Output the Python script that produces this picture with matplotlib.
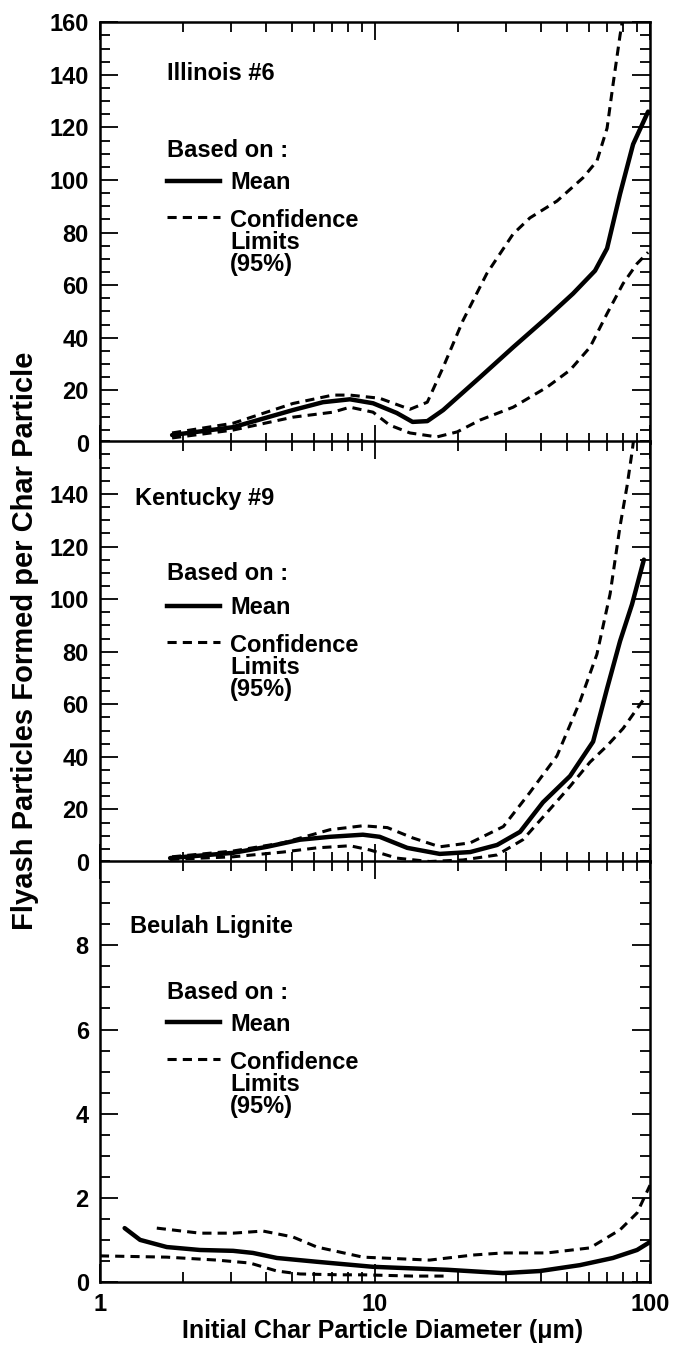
import numpy as np
import matplotlib
matplotlib.use("Agg")
import matplotlib.pyplot as plt
from matplotlib.ticker import FixedLocator, MultipleLocator, NullFormatter, FixedFormatter
from matplotlib.legend_handler import HandlerLine2D
from matplotlib.lines import Line2D

plt.rcParams['font.family'] = ['Liberation Sans', 'DejaVu Sans']
plt.rcParams['font.weight'] = 'bold'
plt.rcParams['font.size'] = 17

# ---------------- data ----------------
# Illinois #6
ill_mean_x = [1.83, 3.05, 5.03, 6.47, 8.11, 9.84, 12.0, 13.7, 15.5, 17.7, 24.1, 31.8, 42.2, 52.5, 63.1, 69.8, 77.8, 86.8, 98.4]
ill_mean_y = [3.0, 6.0, 12.5, 15.5, 16.6, 15.1, 11.4, 8.0, 8.3, 12.5, 25.0, 36.4, 47.7, 56.8, 65.5, 74.0, 94.7, 113.6, 126.0]
ill_up_x = [1.83, 3.05, 5.03, 7.03, 8.11, 10.4, 13.4, 15.5, 17.7, 20.9, 25.5, 31.8, 36.6, 45.9, 57.0, 64.1, 69.8, 73.3, 77.8, 82.0]
ill_up_y = [3.8, 7.5, 15.0, 18.2, 18.2, 17.0, 12.8, 15.5, 28.8, 46.6, 64.4, 79.5, 85.6, 92.0, 100.8, 107.2, 119.7, 136.0, 155.0, 170.0]
ill_lo_x = [1.83, 3.05, 5.03, 7.03, 8.11, 9.84, 11.3, 13.4, 16.8, 19.9, 24.1, 31.8, 42.2, 51.2, 60.5, 69.8, 79.8, 89.7, 98.4]
ill_lo_y = [1.9, 4.9, 9.8, 11.7, 13.6, 11.7, 6.8, 3.8, 2.3, 4.2, 8.7, 13.6, 21.2, 27.7, 36.4, 49.2, 60.6, 68.2, 72.5]

# Kentucky #9
ky_mean_x = [1.80, 3.05, 4.05, 5.34, 6.86, 9.04, 10.4, 13.1, 17.2, 22.2, 27.8, 33.7, 40.8, 51.2, 62.1, 69.8, 77.8, 86.0, 95.0]
ky_mean_y = [1.5, 3.5, 5.8, 8.5, 9.6, 10.4, 9.6, 5.4, 3.1, 3.8, 6.5, 11.5, 22.7, 32.7, 45.8, 66.0, 84.0, 98.0, 115.0]
ky_up_x = [1.83, 3.05, 4.63, 6.86, 9.04, 11.1, 13.7, 17.2, 22.2, 29.3, 36.6, 45.9, 55.6, 64.1, 71.6, 77.8, 82.5, 86.0, 89.0]
ky_up_y = [2.0, 4.2, 7.3, 12.3, 13.8, 13.1, 9.2, 5.8, 7.3, 13.5, 26.5, 40.4, 61.0, 79.0, 102.0, 127.7, 143.0, 155.8, 168.0]
ky_lo_x = [1.80, 3.05, 4.63, 6.15, 8.11, 9.58, 12.0, 15.8, 20.9, 27.8, 34.5, 42.2, 51.2, 60.5, 69.8, 79.8, 95.0]
ky_lo_y = [1.0, 2.0, 3.8, 5.4, 6.2, 4.6, 1.5, 0.2, 0.8, 2.7, 8.5, 18.8, 28.8, 38.0, 44.2, 50.8, 62.0]

# Beulah Lignite
bl_mean_x = [1.23, 1.40, 1.75, 2.31, 3.05, 3.6, 4.4, 6.15, 9.84, 18.3, 29.2, 39.8, 55.6, 73.3, 89.7, 100.0]
bl_mean_y = [1.28, 1.0, 0.83, 0.76, 0.74, 0.69, 0.57, 0.48, 0.36, 0.29, 0.21, 0.26, 0.40, 0.57, 0.76, 0.95]
bl_up_x = [1.61, 2.31, 3.05, 3.92, 5.03, 6.15, 7.46, 9.04, 15.8, 22.7, 29.2, 42.2, 60.5, 77.8, 89.7, 100.0]
bl_up_y = [1.28, 1.16, 1.16, 1.21, 1.07, 0.83, 0.71, 0.59, 0.52, 0.64, 0.69, 0.69, 0.81, 1.24, 1.64, 2.3]
bl_lo_x = [1.0, 1.75, 2.66, 3.51, 4.4, 5.34, 7.46, 9.04, 13.7, 18.3]
bl_lo_y = [0.62, 0.59, 0.52, 0.45, 0.26, 0.19, 0.17, 0.17, 0.14, 0.14]

panel_names = ["Illinois #6", "Kentucky #9", "Beulah Lignite"]
y_limits = [(0, 160), (0, 160), (0, 10)]
y_major = [[0, 20, 40, 60, 80, 100, 120, 140, 160],
           [0, 20, 40, 60, 80, 100, 120, 140],
           [0, 2, 4, 6, 8]]
y_minor_step = [5, 5, 0.5]
x_ticks = [1, 10, 100]
x_ticklabels = ["1", "10", "100"]
legend_title = "Based on :"
legend_labels = ["Mean", "Confidence\nLimits\n(95%)"]
x_label = "Initial Char Particle Diameter (\u03bcm)"
y_label = "Flyash Particles Formed per Char Particle"

series = [
    (ill_mean_x, ill_mean_y, ill_up_x, ill_up_y, ill_lo_x, ill_lo_y),
    (ky_mean_x, ky_mean_y, ky_up_x, ky_up_y, ky_lo_x, ky_lo_y),
    (bl_mean_x, bl_mean_y, bl_up_x, bl_up_y, bl_lo_x, bl_lo_y),
]

# ---------------- styling ----------------
MEAN_LW = 3.2
DASH_LW = 2.2
DASHES = (3.0, 2.0)
FS = 17


class TopLineHandler(HandlerLine2D):
    """Place the legend key at the first line of a multi-line label."""
    def __init__(self, shift=0.0, **kw):
        super().__init__(**kw)
        self.shift = shift

    def create_artists(self, legend, orig_handle, xdescent, ydescent,
                       width, height, fontsize, trans):
        arts = super().create_artists(legend, orig_handle, xdescent, ydescent,
                                      width, height, fontsize, trans)
        for a in arts:
            a.set_ydata(np.asarray(a.get_ydata(), dtype=float) + self.shift * fontsize)
        return arts


fig = plt.figure(figsize=(6.75, 13.55), dpi=100)
left, width = 0.148, 0.815
heights = 0.3105
bottoms = [0.6731, 0.3638, 0.0539]

title_pos = [(0.122, 0.879), (0.064, 0.864), (0.055, 0.845)]
based_pos = [(0.122, 0.694), (0.122, 0.685), (0.122, 0.688)]
legend_anchor = [(0.122, 0.646), (0.122, 0.632), (0.122, 0.640)]

axes = []
for i in range(3):
    ax = fig.add_axes([left, bottoms[i], width, heights])
    axes.append(ax)
    mx, my, ux, uy, lx, ly = series[i]
    ax.plot(mx, my, color='black', lw=MEAN_LW, solid_capstyle='round', solid_joinstyle='round')
    ax.plot(ux, uy, color='black', lw=DASH_LW, ls=(0, DASHES))
    ax.plot(lx, ly, color='black', lw=DASH_LW, ls=(0, DASHES))

    ax.set_xscale('log')
    ax.set_xlim(1, 100)
    ax.set_ylim(*y_limits[i])
    ax.xaxis.set_major_locator(FixedLocator(x_ticks))
    ax.xaxis.set_minor_locator(FixedLocator([k * d for d in (1, 10) for k in range(2, 10)]))
    ax.xaxis.set_minor_formatter(NullFormatter())
    if i == 2:
        ax.xaxis.set_major_formatter(FixedFormatter(x_ticklabels))
    else:
        ax.xaxis.set_major_formatter(NullFormatter())
    ax.yaxis.set_major_locator(FixedLocator(y_major[i]))
    ax.yaxis.set_minor_locator(MultipleLocator(y_minor_step[i]))

    ax.tick_params(which='both', direction='in', top=True, right=True,
                   width=1.3, labelsize=FS, pad=8)
    ax.tick_params(which='major', length=13)
    ax.tick_params(which='minor', length=7.5)
    for lab in ax.get_xticklabels() + ax.get_yticklabels():
        lab.set_fontweight('bold')
    for sp in ax.spines.values():
        sp.set_linewidth(1.8)

    ax.text(*title_pos[i], panel_names[i], transform=ax.transAxes,
            fontsize=FS, fontweight='bold', ha='left', va='center')
    ax.text(*based_pos[i], legend_title, transform=ax.transAxes,
            fontsize=FS, fontweight='bold', ha='left', va='center')

    h_mean = Line2D([], [], color='black', lw=MEAN_LW)
    h_ci = Line2D([], [], color='black', lw=DASH_LW, ls=(0, DASHES))
    leg = ax.legend([h_mean, h_ci], legend_labels,
                    loc='upper left', bbox_to_anchor=legend_anchor[i],
                    frameon=False, borderpad=0, borderaxespad=0,
                    handlelength=2.25, handletextpad=0.42, labelspacing=0.63,
                    alignment='left', fontsize=FS,
                    handler_map={h_ci: TopLineHandler(shift=1.10)})
    for t in leg.get_texts():
        t.set_fontweight('bold')
        t.set_linespacing(0.95)

axes[2].set_xlabel(x_label, fontsize=18, fontweight='bold', labelpad=2)
axes[2].xaxis.label.set_x(0.513)
fig.text(0.037, 0.527, y_label, rotation=90, ha='center', va='center',
         fontsize=21, fontweight='bold')

fig.savefig("out.png", dpi=100)
